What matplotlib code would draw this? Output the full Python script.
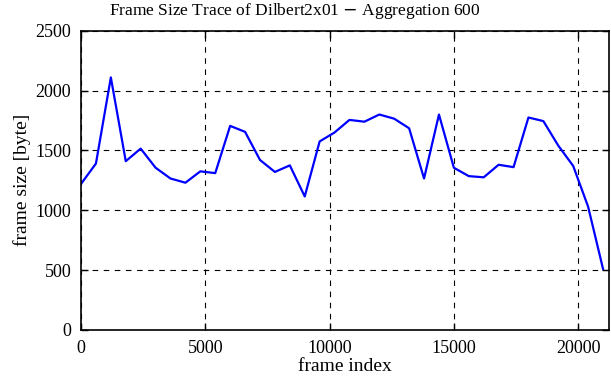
import matplotlib
matplotlib.use("Agg")
import matplotlib.pyplot as plt
import numpy as np

# aggregated frame sizes, one value per 600 frames
aggregation = 600
frame_sizes = [1220, 1390, 2110, 1410, 1515, 1355, 1265, 1230, 1325, 1310,
               1705, 1655, 1420, 1320, 1375, 1115, 1575, 1650, 1755, 1740,
               1800, 1765, 1685, 1265, 1800, 1355, 1285, 1275, 1380, 1360,
               1775, 1745, 1540, 1370, 1030, 510]
frame_index = np.arange(len(frame_sizes)) * aggregation

x_ticks = [0, 5000, 10000, 15000, 20000]
y_ticks = [0, 500, 1000, 1500, 2000, 2500]


def main():
    plt.rcParams['font.family'] = ['Liberation Serif', 'DejaVu Serif']
    plt.rcParams['font.size'] = 13

    fig = plt.figure(figsize=(6.11, 3.80), dpi=100)
    ax = fig.add_axes([0.1326, 0.132, 0.8641, 0.787])

    ax.plot(frame_index, frame_sizes, color='#0000ff', linewidth=1.6)

    ax.set_xlim(0, 21240)
    ax.set_ylim(0, 2500)
    ax.set_xticks(x_ticks)
    ax.set_yticks(y_ticks)
    ax.grid(True, color='black', linestyle=(0, (5, 5)), linewidth=0.8)
    ax.tick_params(direction='in', length=5, width=1, top=True, right=True,
                   pad=7, labelsize=13)
    for sp in ax.spines.values():
        sp.set_linewidth(1.2)

    # title is centred on the canvas a bit left of the axes centre
    fig.text(0.483, 0.971, 'Frame Size Trace of Dilbert2x01 $-$ Aggregation 600',
             fontsize=12.5, ha='center', va='center')
    ax.set_xlabel('frame index', fontsize=14, labelpad=1)
    ax.set_ylabel('frame size [byte]', fontsize=14, labelpad=3)

    fig.savefig('out.png', dpi=100)


if __name__ == "__main__":
    main()
